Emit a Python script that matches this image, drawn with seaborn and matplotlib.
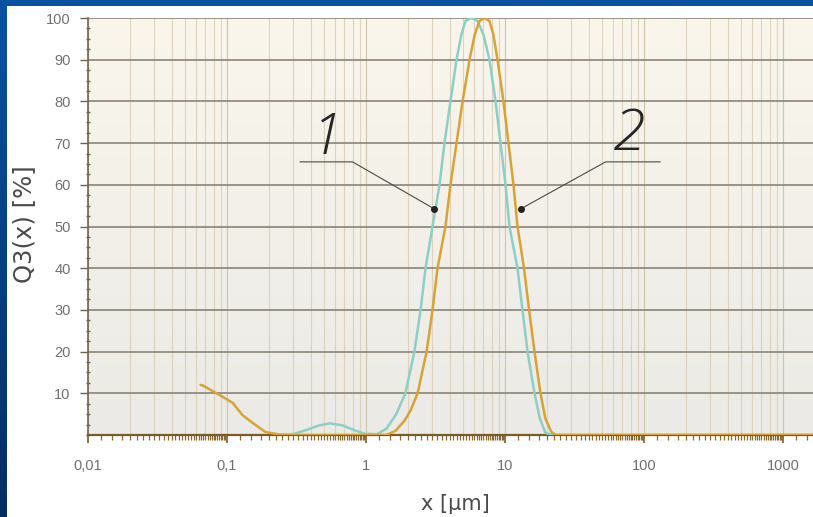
import numpy as np
import pandas as pd
import matplotlib
matplotlib.use("Agg")
import matplotlib.pyplot as plt
from matplotlib import font_manager as fm
from matplotlib.patches import Rectangle
from matplotlib.ticker import FixedLocator, LogLocator, MultipleLocator, NullFormatter
import seaborn as sns

# Cumulative particle size distribution Q3(x), %
size_1 = [0.25, 0.30, 0.38, 0.46, 0.55, 0.68, 0.83, 0.98, 1.2, 1.4, 1.65, 1.92,
          2.23, 2.47, 2.68, 3.01, 3.38, 3.67, 4.05, 4.48, 4.85, 5.2, 5.74, 6.34,
          7.0, 7.73, 8.55, 9.29, 10.09, 10.77, 12.3, 13.36, 14.52, 16.3, 17.8,
          19.55, 22.0, 1650]
q3_1 = [0, 0.2, 1.3, 2.3, 2.8, 2.3, 1.1, 0.3, 0.2, 1.5, 5, 10,
        20, 30, 40, 50, 60, 70, 80, 90, 96, 99.3, 100, 99.3,
        96, 90, 80, 70, 60, 50, 40, 30, 20, 10, 4,
        0.5, 0, 0]

size_2 = [0.0645, 0.0667, 0.0883, 0.11, 0.129, 0.153, 0.189, 0.239, 0.3, 1.0,
          1.4, 1.63, 1.9, 2.1, 2.35, 2.73, 3.01, 3.27, 3.73, 4.05, 4.48, 4.95,
          5.56, 6.05, 6.56, 7.13, 7.73, 8.25, 8.83, 9.75, 10.59, 11.51, 12.3,
          13.7, 14.9, 16.3, 18.0, 19.5, 21.5, 23.0, 1650]
q3_2 = [12, 11.9, 9.6, 7.7, 4.8, 2.9, 0.7, 0.1, 0, 0,
        0, 1, 3.5, 6, 10, 20, 30, 40, 50, 60, 70, 80,
        90, 96, 99.3, 100, 99.3, 96, 90, 80, 70, 60, 50,
        40, 30, 20, 10, 4, 0.8, 0, 0]

sample_names = ["1", "2"]
line_colors = ["#8ccfc6", "#d9a235"]

x_ticks = [0.01, 0.1, 1, 10, 100, 1000]
x_tick_labels = ["0,01", "0,1", "1", "10", "100", "1000"]
y_ticks = [10, 20, 30, 40, 50, 60, 70, 80, 90, 100]

# callout: text position, elbow of leader line, point on the curve
callout_text = {"1": (0.52, 71.0), "2": (78.0, 72.0)}
callout_elbow = {"1": [(0.335, 65.5), (0.80, 65.5)], "2": [(131.0, 65.5), (53.0, 65.5)]}
callout_tip = {"1": (3.11, 54.2), "2": (12.93, 54.2)}


def pick(*names):
    for n in names:
        try:
            fm.findfont(fm.FontProperties(family=n), fallback_to_default=False)
            return n
        except ValueError:
            continue
    return "DejaVu Sans"


sns.set_theme(style="white")
tick_font = pick("Liberation Sans Narrow", "Liberation Sans", "Roboto")
hand_font = pick("Open Sans", "Lato", "DejaVu Sans")

df = pd.concat([
    pd.DataFrame({"size": size_1, "Q3": q3_1, "sample": sample_names[0]}),
    pd.DataFrame({"size": size_2, "Q3": q3_2, "sample": sample_names[1]}),
], ignore_index=True)

W, H = 813, 517
fig = plt.figure(figsize=(W / 100, H / 100), dpi=100)

# slide backdrop: blue frame with white panel
frame = fig.add_axes([0, 0, 1, 1], zorder=-5)
c_top = np.array([12, 82, 162]) / 255
c_bot = np.array([5, 46, 98]) / 255
tt = np.linspace(0, 1, 256)[:, None, None]
frame.imshow(c_top * (1 - tt) + c_bot * tt, aspect="auto", extent=[0, 1, 0, 1])
frame.add_patch(Rectangle((7 / W, 0), 1 - 7 / W, 1 - 6 / H, facecolor="white",
                          edgecolor="none"))
frame.set_xlim(0, 1)
frame.set_ylim(0, 1)
frame.set_axis_off()

L = 88.0
pos = [L / W, (H - 435) / H, (W - L) / W, (435 - 18) / H]

# warm paper-like gradient behind the plot
bg = fig.add_axes(pos, zorder=0)
top_c = np.array([250, 246, 236]) / 255
bot_c = np.array([235, 234, 230]) / 255
t = np.linspace(0, 1, 256)[:, None, None]
bg.imshow(top_c * (1 - t) + bot_c * t, aspect="auto", extent=[0, 1, 0, 1])
bg.set_axis_off()

ax = fig.add_axes(pos, zorder=1)
ax.set_facecolor("none")
ax.set_xscale("log")
ax.set_xlim(0.01, 10 ** (-2 + (W - L) / 139.0))
ax.set_ylim(0, 100)

# vertical log grid
xmax = ax.get_xlim()[1]
for dec in [0.01, 0.1, 1, 10, 100, 1000]:
    for m in range(1, 10):
        v = dec * m
        if v < xmax:
            ax.axvline(v, color="#ddd2bd" if m > 1 else "#d0c4ab", lw=0.8, zorder=0.5)

ax.grid(axis="y", which="major", color="#8a8377", lw=1.2)
ax.set_axisbelow(True)

sns.lineplot(data=df, x="size", y="Q3", hue="sample", palette=line_colors,
             sort=False, estimator=None, lw=1.8, legend=False, ax=ax, zorder=3)

# callouts
for key in sample_names:
    (ex0, ey0), (ex1, ey1) = callout_elbow[key]
    tx, ty = callout_tip[key]
    ax.plot([ex0, ex1, tx], [ey0, ey1, ty], color="#4a4a4a", lw=0.8, zorder=4)
    ax.plot([tx], [ty], marker="o", ms=4, color="#222222", zorder=5)
    px, py = callout_text[key]
    ax.text(px, py, key, fontsize=42, family=hand_font, style="italic", weight="light",
            color="#262626", ha="center", va="center", zorder=4)

# axes styling
for s in ["top", "right"]:
    ax.spines[s].set_visible(False)
ax.spines["left"].set_color("#6f6450")
ax.spines["left"].set_linewidth(1.2)
ax.spines["bottom"].set_color("#7a5a28")
ax.spines["bottom"].set_linewidth(1.6)

ax.xaxis.set_major_locator(FixedLocator(x_ticks))
ax.set_xticklabels(x_tick_labels)
ax.xaxis.set_minor_locator(LogLocator(base=10, subs=np.arange(1.25, 10, 0.25), numticks=60))
ax.xaxis.set_minor_formatter(NullFormatter())
ax.yaxis.set_major_locator(FixedLocator(y_ticks))
ax.yaxis.set_minor_locator(MultipleLocator(2.5))

ax.tick_params(axis="x", which="major", direction="out", length=6, width=1.2,
               color="#7a5a28", pad=11, labelsize=10.5, labelcolor="#707070", bottom=True)
ax.tick_params(axis="x", which="minor", direction="out", length=3.5, width=0.9,
               color="#8a6a30", bottom=True)
ax.tick_params(axis="y", which="major", direction="out", length=6, width=1.0,
               color="#6f6450", pad=6.5, labelsize=10.5, labelcolor="#707070", left=True)
ax.tick_params(axis="y", which="minor", direction="inout", length=3, width=1.0,
               color="#6f6450", left=True)
for lab in ax.get_xticklabels() + ax.get_yticklabels():
    lab.set_family(tick_font)

ax.set_xlabel("x [µm]", fontsize=15, family="DejaVu Sans", color="#4a4a4a")
ax.set_ylabel("Q3(x) [%]", fontsize=17.5, family="DejaVu Sans", color="#4a4a4a")
ax.xaxis.set_label_coords((455 - L) / (W - L), (435 - 494) / 417)
ax.yaxis.set_label_coords((36 - L) / (W - L), (435 - 224) / 417)

fig.savefig("out.png", dpi=100)
